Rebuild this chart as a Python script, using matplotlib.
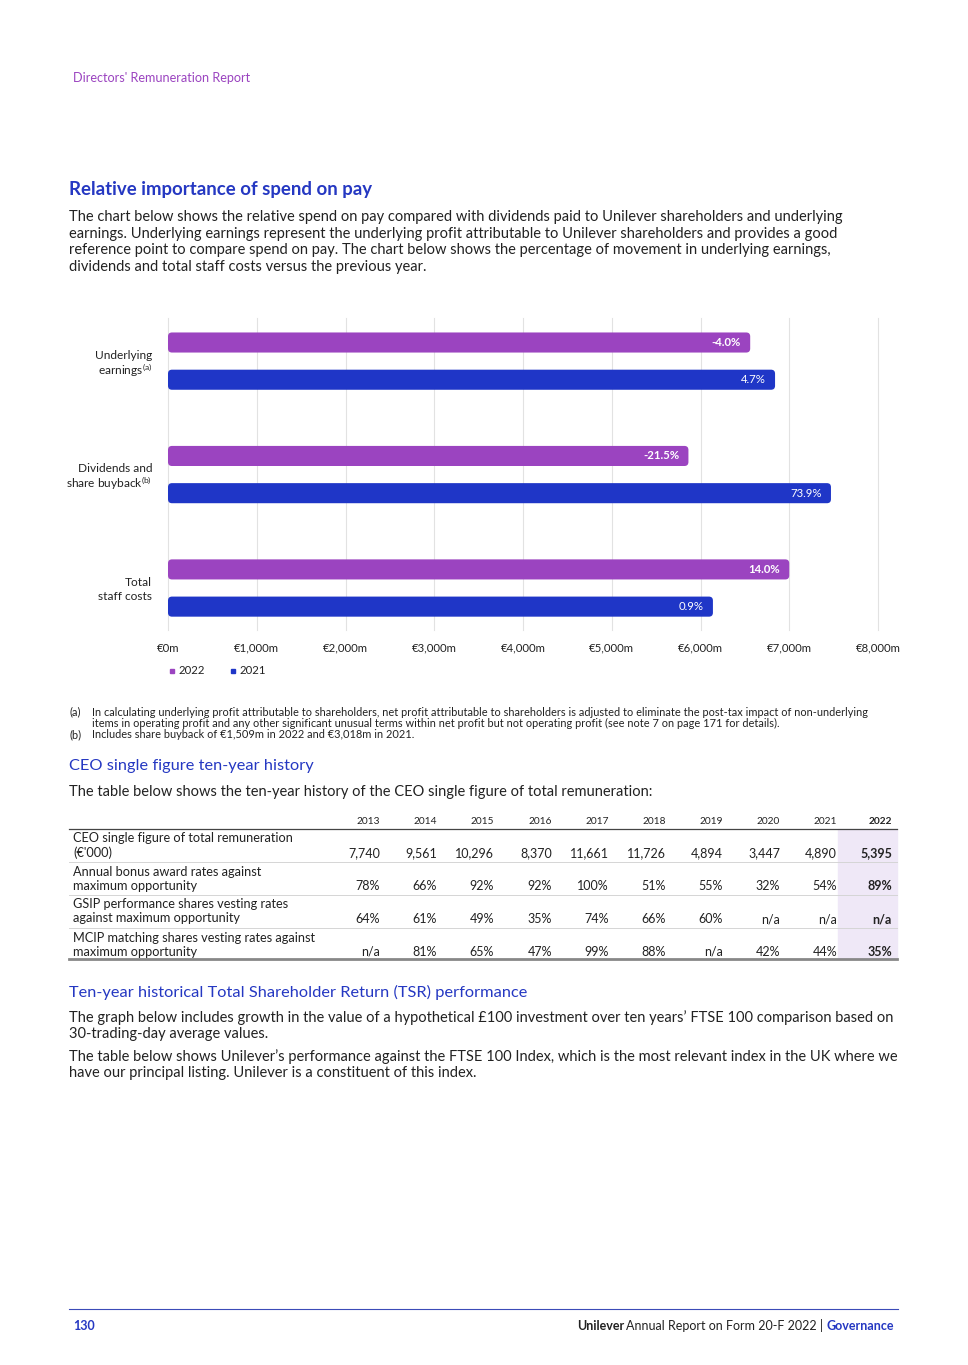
import numpy as np
import matplotlib
matplotlib.use("Agg")
import matplotlib.pyplot as plt
from matplotlib.patches import FancyBboxPatch
from matplotlib.lines import Line2D

plt.rcParams['font.family'] = ['Lato', 'DejaVu Sans']
plt.rcParams['mathtext.default'] = 'regular'

# chart data (EUR million)
categories = [("Underlying", "earnings", "(a)"), ("Dividends and", "share buyback", "(b)"), ("Total", "staff costs", "")]
values_2022 = [6560, 5864, 7000]
values_2021 = [6840, 7470, 6140]
labels_2022 = ["-4.0%", "-21.5%", "14.0%"]
labels_2021 = ["4.7%", "73.9%", "0.9%"]
xticks = [0, 1000, 2000, 3000, 4000, 5000, 6000, 7000, 8000]
xtick_labels = ["€0m", "€1,000m", "€2,000m", "€3,000m", "€4,000m", "€5,000m", "€6,000m", "€7,000m", "€8,000m"]

# CEO table data
years = ["2013", "2014", "2015", "2016", "2017", "2018", "2019", "2020", "2021", "2022"]
row_labels = [
    "CEO single figure of total remuneration\n(€'000)",
    "Annual bonus award rates against\nmaximum opportunity",
    "GSIP performance shares vesting rates\nagainst maximum opportunity",
    "MCIP matching shares vesting rates against\nmaximum opportunity",
]
ceo_single_figure = ["7,740", "9,561", "10,296", "8,370", "11,661", "11,726", "4,894", "3,447", "4,890", "5,395"]
bonus_rates = ["78%", "66%", "92%", "92%", "100%", "51%", "55%", "32%", "54%", "89%"]
gsip_rates = ["64%", "61%", "49%", "35%", "74%", "66%", "60%", "n/a", "n/a", "n/a"]
mcip_rates = ["n/a", "81%", "65%", "47%", "99%", "88%", "n/a", "42%", "44%", "35%"]

PURPLE = "#9b44c0"
BLUE = "#1f36c7"
HEAD_BLUE = "#2538c2"
TEXT = "#222222"
BODY = 10.5

W, H = 968, 1365
fig = plt.figure(figsize=(W / 100, H / 100), dpi=100)


def fx(x):
    return x / W


def fy(y):
    return 1 - y / H


def put(x, y, s, **kw):
    kw.setdefault("color", TEXT)
    kw.setdefault("va", "center")
    return fig.text(fx(x), fy(y), s, **kw)


def hline(x0, x1, y, color="#cccccc", lw=0.8):
    fig.add_artist(Line2D([fx(x0), fx(x1)], [fy(y), fy(y)], color=color, lw=lw))


# page header
put(73, 78, "Directors' Remuneration Report", color=PURPLE, fontsize=9.1)

put(69, 190, "Relative importance of spend on pay", color=HEAD_BLUE, fontsize=13.4, fontweight="bold")
intro = [
    "The chart below shows the relative spend on pay compared with dividends paid to Unilever shareholders and underlying",
    "earnings. Underlying earnings represent the underlying profit attributable to Unilever shareholders and provides a good",
    "reference point to compare spend on pay. The chart below shows the percentage of movement in underlying earnings,",
    "dividends and total staff costs versus the previous year.",
]
for i, line in enumerate(intro):
    put(69, 217 + i * 16.6, line, fontsize=BODY)

# bar chart
ax_top, ax_bot = 318, 630
ax = fig.add_axes([fx(168), fy(ax_bot), fx(878) - fx(168), (ax_bot - ax_top) / H])
centers = np.arange(len(categories))
off = 0.164
bh = 0.177
ylim = (2.37, -0.38)
b22 = ax.barh(centers - off, values_2022, height=bh, color=PURPLE, zorder=3)
b21 = ax.barh(centers + off, values_2021, height=bh, color=BLUE, zorder=3)
ax.set_xlim(0, 8000)
ax.set_ylim(*ylim)

# rounded corners
x_per_px = 8000 / 710
y_per_px = abs(ylim[0] - ylim[1]) / (ax_bot - ax_top)
r = 4 * x_per_px
for bars in (b22, b21):
    for p in bars:
        p.set_visible(False)
        fb = FancyBboxPatch((p.get_x(), p.get_y()), p.get_width(), p.get_height(),
                            boxstyle=f"round,pad=0,rounding_size={r}",
                            mutation_aspect=y_per_px / x_per_px,
                            facecolor=p.get_facecolor(), edgecolor="none", zorder=3)
        ax.add_patch(fb)

for i in range(len(categories)):
    ax.text(values_2022[i] - 9 * x_per_px, centers[i] - off, labels_2022[i], ha="right", va="center",
            color="white", fontsize=8.2, fontweight="bold", zorder=4)
    ax.text(values_2021[i] - 9 * x_per_px, centers[i] + off, labels_2021[i], ha="right", va="center",
            color="white", fontsize=8.2, zorder=4)

ax.set_xticks(xticks)
ax.set_xticklabels(xtick_labels, fontsize=8.2, color=TEXT)
ax.tick_params(axis="x", length=0, pad=9)
ax.set_yticks([])
for xt in xticks:
    ax.axvline(xt, color="#e2e2e2", lw=0.8, zorder=0, clip_on=False)
for s in ax.spines.values():
    s.set_visible(False)

# category labels, two lines right aligned
lab_x = -16 * x_per_px
for i, (l1, l2, sup) in enumerate(categories):
    ax.text(lab_x, centers[i] - 6 * y_per_px, l1, ha="right", va="center", fontsize=8.6, color=TEXT, clip_on=False)
    t2 = l2 + (f"$^{{{sup}}}$" if sup else "")
    ax.text(lab_x, centers[i] + 7 * y_per_px, t2, ha="right", va="center_baseline", fontsize=8.6,
            color=TEXT, clip_on=False)

handles = [Line2D([], [], marker="s", ls="none", color=PURPLE, markersize=3.5),
           Line2D([], [], marker="s", ls="none", color=BLUE, markersize=3.5)]
fig.legend(handles, ["2022", "2021"], loc="center left", bbox_to_anchor=(fx(159), fy(671)),
           ncol=2, frameon=False, fontsize=8.2, handlelength=0.5, handletextpad=0.3,
           columnspacing=2.2, labelcolor=TEXT)

# footnotes
fn = 7.9
put(69, 712, "(a)", fontsize=fn)
put(92, 712, "In calculating underlying profit attributable to shareholders, net profit attributable to shareholders is adjusted to eliminate the post-tax impact of non-underlying", fontsize=fn)
put(92, 723.5, "items in operating profit and any other significant unusual terms within net profit but not operating profit (see note 7 on page 171 for details).", fontsize=fn)
put(69, 735, "(b)", fontsize=fn)
put(92, 735, "Includes share buyback of €1,509m in 2022 and €3,018m in 2021.", fontsize=fn)

# CEO table
put(69, 766, "CEO single figure ten-year history", color=HEAD_BLUE, fontsize=11.8)
put(69, 792, "The table below shows the ten-year history of the CEO single figure of total remuneration:", fontsize=BODY)

col_right = [380, 437, 494, 552, 609, 666, 723, 780, 837, 892]
fig.add_artist(plt.Rectangle((fx(838), fy(958)), fx(897) - fx(838), (958 - 829) / H,
                             transform=fig.transFigure, color="#efe8f7", zorder=0))
for j, yr in enumerate(years):
    put(col_right[j], 821, yr, ha="right", fontsize=7.3, fontweight="bold" if j == 9 else "normal")
hline(69, 897, 829, color="#444444", lw=0.9)
rows = [ceo_single_figure, bonus_rates, gsip_rates, mcip_rates]
row_top = 829
row_h = 33
for i, (lab, vals) in enumerate(zip(row_labels, rows)):
    y0 = row_top + i * row_h
    put(73, y0 + 16.5, lab, fontsize=9.2, linespacing=1.2)
    for j, v in enumerate(vals):
        put(col_right[j], y0 + 24, v, ha="right", fontsize=9, fontweight="bold" if j == 9 else "normal")
    if i < len(rows) - 1:
        hline(69, 897, y0 + row_h, color="#d5d5d5", lw=0.7)
hline(69, 897, 959, color="#888888", lw=2.0)

# TSR section
put(69, 992, "Ten-year historical Total Shareholder Return (TSR) performance", color=HEAD_BLUE, fontsize=11.8)
tsr = [
    (1018, "The graph below includes growth in the value of a hypothetical £100 investment over ten years\u2019 FTSE 100 comparison based on"),
    (1034, "30-trading-day average values."),
    (1057, "The table below shows Unilever\u2019s performance against the FTSE 100 Index, which is the most relevant index in the UK where we"),
    (1073, "have our principal listing. Unilever is a constituent of this index."),
]
for y, line in tsr:
    put(69, y, line, fontsize=BODY)

# footer
hline(69, 898, 1309, color="#3b4bb8", lw=0.8)
put(73, 1326, "130", color=HEAD_BLUE, fontsize=9, fontweight="bold")
gov = put(894, 1326, "Governance", color=HEAD_BLUE, fontsize=9, fontweight="bold", ha="right")
fig.canvas.draw()
renderer = fig.canvas.get_renderer()
gbb = gov.get_window_extent(renderer)
mid = fig.text(gbb.x0 / W, fy(1326), "Annual Report on Form 20-F 2022 | ", color=TEXT, fontsize=9, ha="right", va="center")
mbb = mid.get_window_extent(renderer)
fig.text(mbb.x0 / W - 0.002, fy(1326), "Unilever", color=TEXT, fontsize=9, fontweight="bold", ha="right", va="center")

fig.savefig("out.png", dpi=100)
